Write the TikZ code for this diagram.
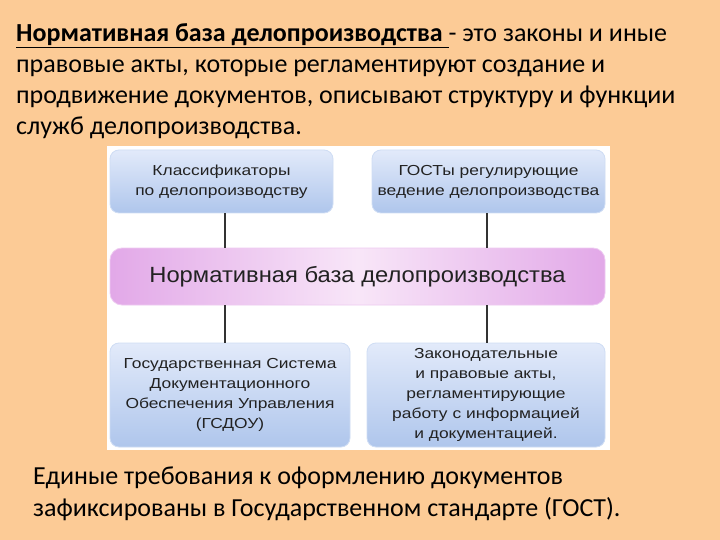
\documentclass[tikz,border=0pt]{standalone}
\usepackage{fontspec}
\setmainfont{Carlito}
\newfontfamily\boxfont[FakeStretch=1.2]{Liberation Sans}
\newfontfamily\midfont[FakeStretch=1.08]{Liberation Sans}
\usetikzlibrary{shapes.misc}
\definecolor{peach}{HTML}{FCCB96}
\definecolor{bluelt}{HTML}{E2EAFA}
\definecolor{bluedk}{HTML}{AFC6EC}
\definecolor{pinklt}{HTML}{F8E6F8}
\definecolor{pinkdk}{HTML}{E2A8E8}
\definecolor{txtgray}{HTML}{222222}
\tikzset{
  bluebox/.style={draw=bluedk!60, line width=0.8pt, rounded corners=9pt, top color=bluelt, bottom color=bluedk, inner sep=0pt, align=center, font=\boxfont\fontsize{14.5}{20}\selectfont, text=txtgray},
  pinkbox/.style={draw=pinkdk!60, line width=0.8pt, rounded corners=12pt, left color=pinkdk, right color=pinkdk, middle color=pinklt, inner sep=0pt, align=center, font=\midfont\fontsize{22}{26}\selectfont, text=txtgray},
  link/.style={draw=black!80, line width=1.5pt},
  para/.style={anchor=north west, align=left, inner sep=0pt, text=black}
}
\begin{document}
\begin{tikzpicture}[x=1pt,y=-1pt]
\fill[peach] (0,0) rectangle (720,540);
\useasboundingbox (0,0) rectangle (720,540);
\fill[white] (107,146) rectangle (610,450);
% paragraph
\node[para, font=\fontsize{26}{31}\selectfont] (top) at (16,23) {\underline{\textbf{Нормативная база делопроизводства }}- это законы и иные\\правовые акты, которые регламентируют создание и\\продвижение документов, описывают структуру и функции\\служб делопроизводства.};
% boxes
\node[bluebox, minimum width=223pt, minimum height=63pt] (tl) at (221.5,181.5) {Классификаторы\\по делопроизводству};
\node[bluebox, minimum width=233pt, minimum height=63pt] (tr) at (488.5,181.5) {ГОСТы регулирующие\\ведение делопроизводства};
\node[pinkbox, minimum width=495pt, minimum height=57pt] (mid) at (357.5,276.5) {Нормативная база делопроизводства};
\node[bluebox, minimum width=240pt, minimum height=104pt] (bl) at (230,395) {Государственная Система\\Документационного\\Обеспечения Управления\\(ГСДОУ)};
\node[bluebox, minimum width=238pt, minimum height=104pt] (br) at (486,395) {Законодательные\\и правовые акты,\\регламентирующие\\работу с информацией\\и документацией.};
% connectors
\draw[link] (tl.south -| 225,0) -- (mid.north -| 225,0);
\draw[link] (tr.south -| 487,0) -- (mid.north -| 487,0);
\draw[link] (mid.south -| 225,0) -- (bl.north -| 225,0);
\draw[link] (mid.south -| 487,0) -- (br.north -| 487,0);
% bottom paragraph
\node[para, font=\fontsize{26}{32}\selectfont] (bot) at (33,467) {Единые требования к оформлению документов\\зафиксированы в Государственном стандарте (ГОСТ).};
\end{tikzpicture}
\end{document}
